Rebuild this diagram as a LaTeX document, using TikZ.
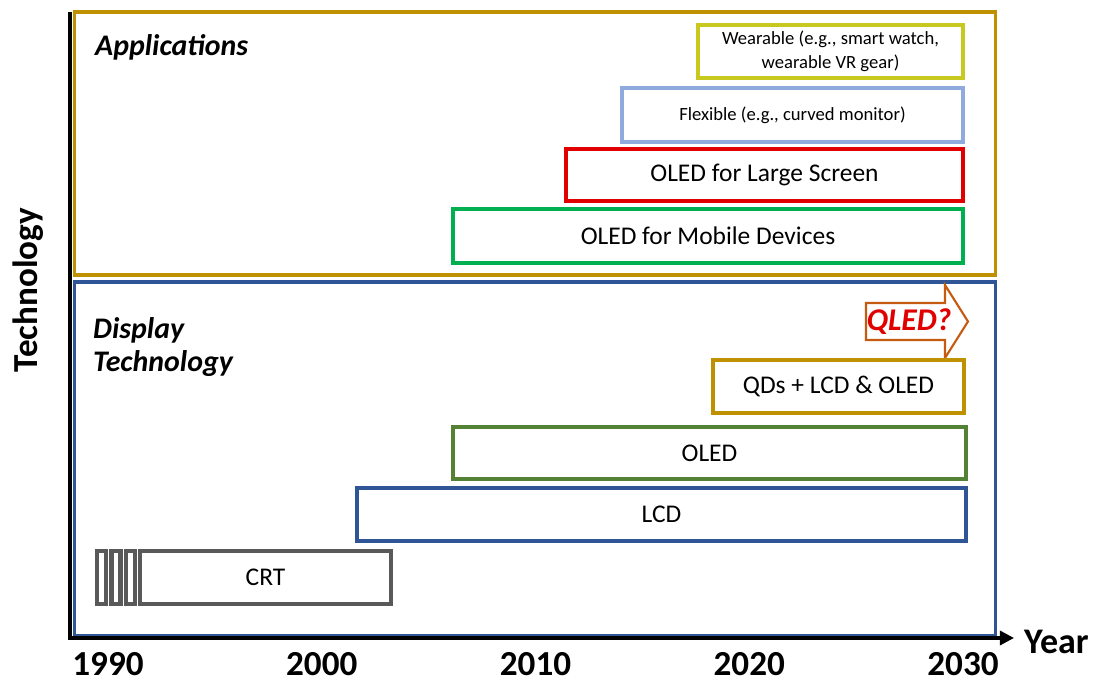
\documentclass[tikz,border=0pt]{standalone}
\usepackage{xcolor}
\usepackage{fontspec}
\setmainfont{Carlito}
\usepackage{tikz}
\usetikzlibrary{arrows.meta}
\definecolor{DTGold}{HTML}{BF9000}
\definecolor{DTBlue}{HTML}{2F5597}
\definecolor{DTLime}{HTML}{C8C81E}
\definecolor{DTSky}{HTML}{8FAADC}
\definecolor{DTRed}{HTML}{E00000}
\definecolor{DTGreen}{HTML}{00B050}
\definecolor{DTOlive}{HTML}{548235}
\definecolor{DTGray}{HTML}{595959}
\definecolor{DTOrange}{HTML}{C55A11}

\begin{document}
\begin{tikzpicture}[x=0.02cm,y=-0.02cm,
  frame/.style={draw,line width=1.8pt,inner sep=0pt},
  bar/.style={draw,line width=2.3pt,fill=white,inner sep=0pt,minimum height=1.06cm,font=\fontsize{14.5}{16}\selectfont},
  smallbar/.style={bar,font=\fontsize{10.6}{13.5}\selectfont,align=center},
  slat/.style={draw=DTGray,line width=2.3pt,inner sep=0pt,minimum width=0.18cm,minimum height=1.06cm},
  yearlbl/.style={font=\fontsize{20}{22}\selectfont\bfseries,inner sep=0pt},
  panel/.style={font=\fontsize{17}{19}\selectfont\bfseries\itshape,align=left,anchor=west}]
\path[use as bounding box] (0,0) rectangle (1093,682);
% frames
\node[frame,draw=DTGold,minimum width=18.44cm,minimum height=5.26cm] (apps) at (535,143.5) {};
\node[frame,draw=DTBlue,minimum width=18.44cm,minimum height=7.08cm] (disp) at (535,459) {};
\node[panel] (appslbl) at (89,47) {Applications};
\node[panel] (displbl) at (87,347) {Display\\Technology};
% applications
\node[smallbar,draw=DTLime,minimum width=5.30cm] (wear) at (830.5,51.5) {Wearable (e.g., smart watch,\\wearable VR gear)};
\node[smallbar,draw=DTSky,minimum width=6.82cm,minimum height=1.08cm] (flex) at (792.5,115) {Flexible (e.g., curved monitor)};
\node[bar,draw=DTRed,minimum width=7.94cm,minimum height=1.04cm] (large) at (764.5,175) {OLED for Large Screen};
\node[bar,draw=DTGreen,minimum width=10.20cm,minimum height=1.08cm] (mobile) at (708,236) {OLED for Mobile Devices};
% display technology
\draw[DTOrange,line width=1.2pt,fill=white] (866,303) -- (945,303) -- (945,285) -- (968,321.5)
  -- (945,358) -- (945,340) -- (866,340) -- cycle;
\node[font=\fontsize{18}{20}\selectfont\bfseries\itshape,text=DTRed] (qled) at (909,321.5) {QLED?};
\node[bar,draw=DTGold,minimum width=5.02cm] (qds) at (838.5,386.5) {QDs + LCD \& OLED};
\node[bar,draw=DTOlive,minimum width=10.26cm,minimum height=1.04cm] (oled) at (709.5,453) {OLED};
\node[bar,draw=DTBlue,minimum width=12.18cm] (lcd) at (661.5,514.5) {LCD};
\node[bar,draw=DTGray,minimum width=5.02cm] (crt) at (265.5,577.5) {CRT};
\foreach \sx [count=\i] in {101.5,116,130.5}
  \node[slat] (slat\i) at (\sx,577.5) {};
% axes
\node[font=\fontsize{20.5}{22}\selectfont\bfseries,anchor=west] (year) at (1018,642) {Year};
\node[font=\fontsize{20}{22}\selectfont\bfseries,rotate=90] (tech) at (28,290) {Technology};
\coordinate (ytop) at (70,12);
\coordinate (origin) at (70,638);
\coordinate (xend) at (1014,638);
\draw[line width=1.8pt,-{Triangle[length=8pt,width=8pt]}] (ytop) -- (origin) -- (xend);
\foreach \yr [count=\i from 0] in {1990,2000,2010,2020,2030}
  \node[yearlbl] (y\yr) at ({108+213.75*\i},664) {\yr};
\end{tikzpicture}
\end{document}
